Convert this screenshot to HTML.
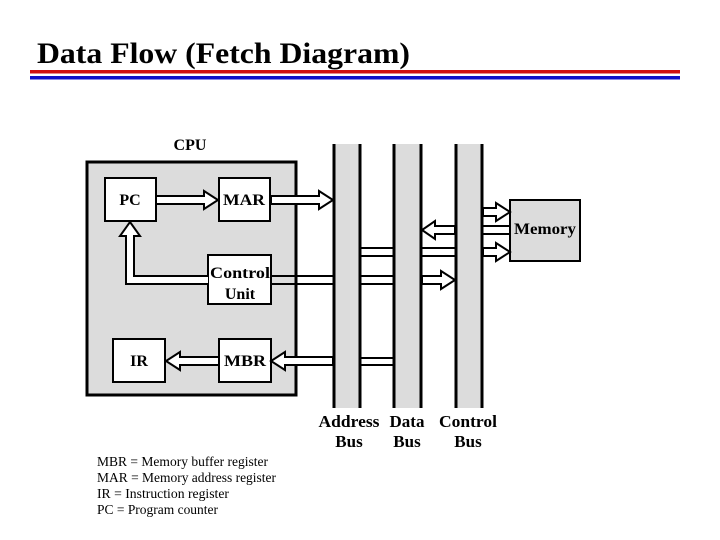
<!DOCTYPE html>
<html><head><meta charset="utf-8"><style>
body{margin:0;background:#fff;}
svg{display:block;font-family:"Liberation Serif",serif;}
</style></head><body>
<svg width="720" height="540" viewBox="0 0 720 540" xmlns="http://www.w3.org/2000/svg">
<text x="37" y="63" font-size="30" font-weight="bold" textLength="373" lengthAdjust="spacingAndGlyphs">Data Flow (Fetch Diagram)</text>
<rect x="30" y="70" width="650" height="3.5" fill="#d01010"/>
<rect x="30" y="76" width="650" height="3.5" fill="#1010c8"/>

<text x="190" y="150" font-size="16" font-weight="bold" text-anchor="middle">CPU</text>
<rect x="87" y="162" width="209" height="233" fill="#dcdcdc" stroke="#000" stroke-width="3"/>

<g fill="#fff" stroke="#000" stroke-width="2">
<rect x="105" y="178" width="51" height="43"/>
<rect x="219" y="178" width="51" height="43"/>
<rect x="208" y="255" width="63" height="49"/>
<rect x="113" y="339" width="52" height="43"/>
<rect x="219" y="339" width="52" height="43"/>
</g>
<g font-size="16" font-weight="bold" text-anchor="middle">
<text x="130" y="205">PC</text>
<text x="244" y="205" textLength="42" lengthAdjust="spacingAndGlyphs">MAR</text>
<text x="240" y="278" textLength="60" lengthAdjust="spacingAndGlyphs">Control</text>
<text x="240" y="299">Unit</text>
<text x="139" y="366">IR</text>
<text x="245" y="366" textLength="42" lengthAdjust="spacingAndGlyphs">MBR</text>
</g>

<g fill="#dcdcdc" stroke="none">
<rect x="334" y="144" width="26" height="264"/>
<rect x="394" y="144" width="27" height="264"/>
<rect x="456" y="144" width="26" height="264"/>
</g>
<g stroke="#000" stroke-width="3">
<line x1="334" y1="144" x2="334" y2="408"/><line x1="360" y1="144" x2="360" y2="408"/>
<line x1="394" y1="144" x2="394" y2="408"/><line x1="421" y1="144" x2="421" y2="408"/>
<line x1="456" y1="144" x2="456" y2="408"/><line x1="482" y1="144" x2="482" y2="408"/>
</g>

<rect x="510" y="200" width="70" height="61" fill="#dcdcdc" stroke="#000" stroke-width="2"/>
<text x="545" y="234" font-size="16" font-weight="bold" text-anchor="middle" textLength="62" lengthAdjust="spacingAndGlyphs">Memory</text>

<g fill="#fff" stroke="#000" stroke-width="2" stroke-linejoin="miter">
<polygon points="156,196 204,196 204,191 218,200 204,209 204,204 156,204"/>
<polygon points="271,196 319,196 319,191 333,200 319,209 319,204 271,204"/>
<polygon points="483,208 496,208 496,203 510,212 496,221 496,216 483,216"/>
<polygon points="483,248 496,248 496,243 510,252 496,261 496,256 483,256"/>
<polygon points="455,226 435,226 435,221 422,230 435,239 435,234 455,234"/>
<polygon points="422,276 441,276 441,271 455,280 441,289 441,284 422,284"/>
<polygon points="333,357 285,357 285,352 271,361 285,370 285,365 333,365"/>
<polygon points="219,357 180,357 180,352 166,361 180,370 180,365 219,365"/>
<polyline points="208,276 134,276 134,236 140,236 130,222 120,236 126,236 126,284 208,284"/>
</g>
<g stroke="#000" stroke-width="2">
<line x1="483" y1="226" x2="510" y2="226"/><line x1="483" y1="234" x2="510" y2="234"/>
<line x1="361" y1="248" x2="393" y2="248"/><line x1="361" y1="256" x2="393" y2="256"/>
<line x1="422" y1="248" x2="455" y2="248"/><line x1="422" y1="256" x2="455" y2="256"/>
<line x1="272" y1="276" x2="333" y2="276"/><line x1="272" y1="284" x2="333" y2="284"/>
<line x1="361" y1="276" x2="393" y2="276"/><line x1="361" y1="284" x2="393" y2="284"/>
<line x1="361" y1="358" x2="393" y2="358"/><line x1="361" y1="365" x2="393" y2="365"/>
</g>

<g font-size="17" font-weight="bold" text-anchor="middle">
<text x="349" y="427" textLength="61" lengthAdjust="spacingAndGlyphs">Address</text><text x="349" y="447">Bus</text>
<text x="407" y="427">Data</text><text x="407" y="447">Bus</text>
<text x="468" y="427" textLength="58" lengthAdjust="spacingAndGlyphs">Control</text><text x="468" y="447">Bus</text>
</g>

<g font-size="13.5">
<text x="97" y="466" textLength="171" lengthAdjust="spacingAndGlyphs">MBR = Memory buffer register</text>
<text x="97" y="482" textLength="179" lengthAdjust="spacingAndGlyphs">MAR = Memory address register</text>
<text x="97" y="498" textLength="132" lengthAdjust="spacingAndGlyphs">IR = Instruction register</text>
<text x="97" y="514" textLength="121" lengthAdjust="spacingAndGlyphs">PC = Program counter</text>
</g>
</svg>
</body></html>
